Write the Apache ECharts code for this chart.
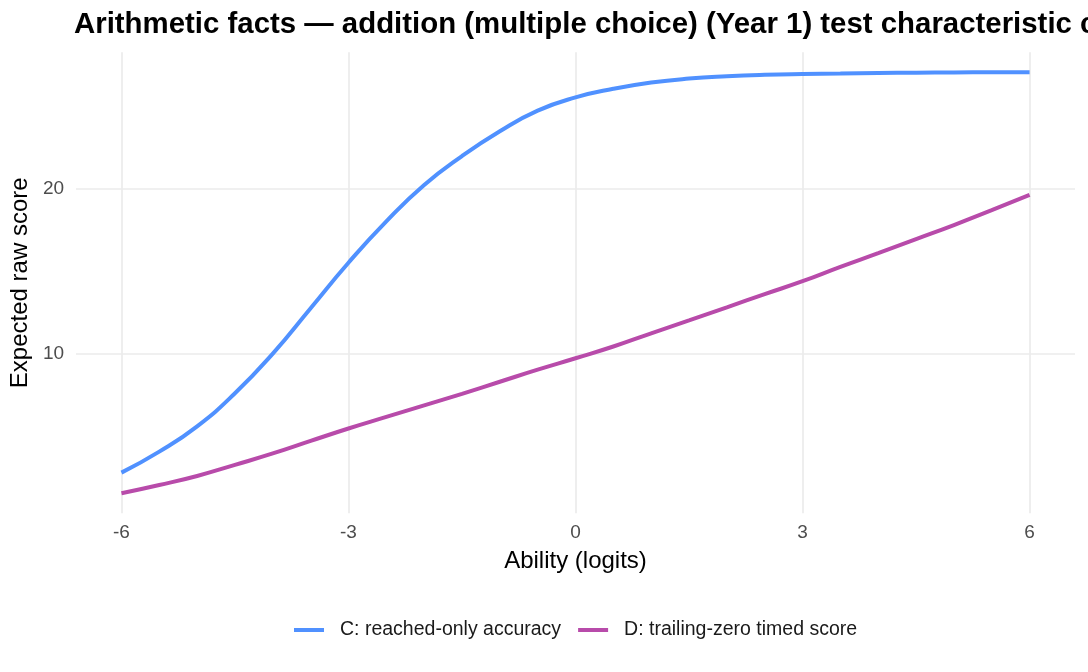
<!DOCTYPE html>
<html>
<head>
<meta charset="utf-8">
<script src="https://cdn.jsdelivr.net/npm/echarts@6/dist/echarts.min.js"></script>
<style>html,body{margin:0;padding:0;background:#fff}#c{width:1088px;height:672px}</style>
</head>
<body>
<div id="c"></div>
<script>
const ability = [-6,-5.5,-5,-4.5,-4,-3.5,-3,-2.5,-2,-1.5,-1,-0.5,0,0.5,1,1.5,2,2.5,3,3.5,4,4.5,5,5.5,6];
const seriesC = [2.80,4.07,5.6,7.6,10.0,12.75,15.5,18.0,20.2,21.95,23.45,24.7,25.5,26.02,26.4,26.64,26.78,26.87,26.92,26.95,26.98,27.0,27.01,27.02,27.02];
const seriesD = [1.55,2.05,2.6,3.27,3.96,4.72,5.47,6.17,6.87,7.57,8.3,9.03,9.72,10.43,11.23,12.01,12.8,13.6,14.38,15.25,16.08,16.93,17.78,18.68,19.6];
const xTicks = [-6,-3,0,3,6];
const yTicks = [10,20];
const nameC = 'C: reached-only accuracy';
const nameD = 'D: trailing-zero timed score';
const colorC = '#5091FF';
const colorD = '#B84BAA';

const font = 'Liberation Sans, Arial, Helvetica, sans-serif';
const chart = echarts.init(document.getElementById('c'), null, {renderer:'canvas'});
const pairs = (ys) => ability.map((x,i)=>[x, ys[i]]);
chart.setOption({
  animation:false,
  backgroundColor:'#fff',
  title:{
    text:'Arithmetic facts — addition (multiple choice) (Year 1) test characteristic curves',
    left:74, top:10, padding:0,
    textStyle:{fontFamily:font, fontSize:29.4, fontWeight:'bold', color:'#000'}
  },
  grid:{left:74, right:13, top:52.3, bottom:158.7, containLabel:false},
  legend:{
    top:615, left:289,
    itemWidth:30, itemHeight:4, itemGap:17, icon:'rect',
    textStyle:{fontFamily:font, fontSize:19.5, color:'#1a1a1a', padding:[0,0,0,11]},
    data:[nameC, nameD]
  },
  xAxis:{
    type:'value', min:-6.6, max:6.6,
    name:'Ability (logits)', nameLocation:'middle', nameGap:36,
    nameTextStyle:{fontFamily:font, fontSize:24, color:'#000'},
    axisLine:{show:false}, axisTick:{show:false, customValues:xTicks},
    axisLabel:{customValues:xTicks, fontFamily:font, fontSize:19, color:'#4d4d4d', margin:10},
    splitLine:{show:true, lineStyle:{color:'#ebebeb', width:1.7}}
  },
  yAxis:{
    type:'value', min:0.34, max:28.23,
    name:'Expected raw score', nameLocation:'middle', nameGap:36, nameRotate:90,
    nameTextStyle:{fontFamily:font, fontSize:24, color:'#000'},
    axisLine:{show:false}, axisTick:{show:false, customValues:yTicks},
    axisLabel:{customValues:yTicks, fontFamily:font, fontSize:19, color:'#4d4d4d', margin:12},
    splitLine:{show:true, lineStyle:{color:'#ebebeb', width:1.7}}
  },
  series:[
    {name:nameC, type:'line', data:pairs(seriesC), smooth:0.5, showSymbol:false, symbol:'none',
     itemStyle:{color:colorC}, lineStyle:{color:colorC, width:4}},
    {name:nameD, type:'line', data:pairs(seriesD), smooth:0.5, showSymbol:false, symbol:'none',
     itemStyle:{color:colorD}, lineStyle:{color:colorD, width:4}}
  ]
});
</script>
</body>
</html>
